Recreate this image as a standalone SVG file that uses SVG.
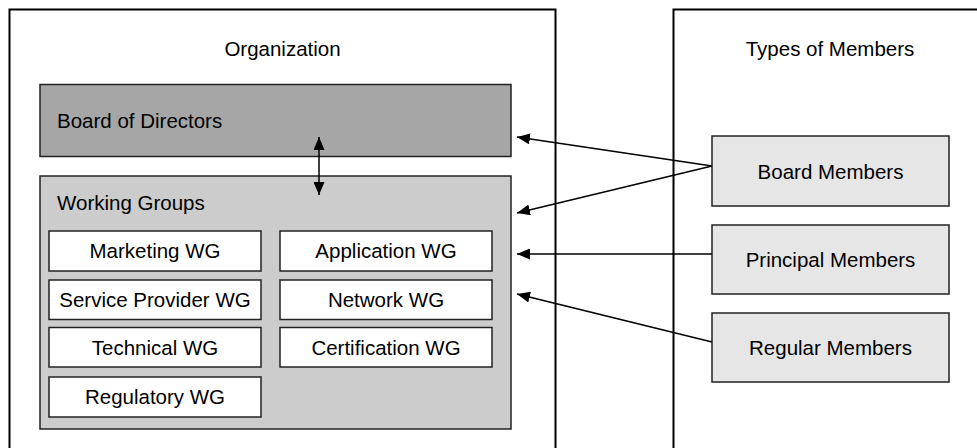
<svg xmlns="http://www.w3.org/2000/svg" width="977" height="448" viewBox="0 0 977 448">
<defs>
<marker id="ah" viewBox="0 0 13 11" markerWidth="13" markerHeight="11" refX="13" refY="5.5" orient="auto-start-reverse" markerUnits="userSpaceOnUse">
<path d="M0,0 L13,5.5 L0,11 z" fill="#000"/>
</marker>
<style>
text{font-family:"Liberation Sans",Arial,Helvetica,sans-serif;font-size:20.5px;fill:#000}
.c{text-anchor:middle}
.frame{fill:#fff;stroke:#000;stroke-width:2}
.box{stroke:#222;stroke-width:1.5}
.wg{fill:#fff}
.mem{fill:#e6e6e6}
.conn{fill:none;stroke:#000;stroke-width:1.5}
</style>
</defs>
<rect width="977" height="448" fill="#fff"/>
<g id="organization">
<rect class="frame" x="9.5" y="9.5" width="546" height="460"/>
<text class="c" x="282.5" y="56">Organization</text>
</g>
<g id="types-of-members">
<rect class="frame" x="673.5" y="9.5" width="330" height="460"/>
<text class="c" x="830" y="56">Types of Members</text>
</g>
<g id="board-of-directors">
<rect class="box" x="40" y="84.5" width="471" height="72" fill="#a6a6a6"/>
<text x="57" y="128">Board of Directors</text>
</g>
<g id="working-groups">
<rect class="box" x="40" y="176" width="471" height="253" fill="#cccccc"/>
<text x="57" y="210">Working Groups</text>
</g>
<g id="marketing-wg"><rect class="box wg" x="49" y="231" width="212" height="40"/><text class="c" x="155" y="258">Marketing WG</text></g>
<g id="application-wg"><rect class="box wg" x="280" y="231" width="212" height="40"/><text class="c" x="386" y="258">Application WG</text></g>
<g id="service-provider-wg"><rect class="box wg" x="49" y="280" width="212" height="39.5"/><text class="c" x="155" y="307">Service Provider WG</text></g>
<g id="network-wg"><rect class="box wg" x="280" y="280" width="212" height="39.5"/><text class="c" x="386" y="307">Network WG</text></g>
<g id="technical-wg"><rect class="box wg" x="49" y="327.5" width="212" height="39.5"/><text class="c" x="155" y="355">Technical WG</text></g>
<g id="certification-wg"><rect class="box wg" x="280" y="327.5" width="212" height="39.5"/><text class="c" x="386" y="355">Certification WG</text></g>
<g id="regulatory-wg"><rect class="box wg" x="49" y="377" width="212" height="40"/><text class="c" x="155" y="404">Regulatory WG</text></g>
<g id="board-members"><rect class="box mem" x="712" y="136" width="237" height="70"/><text class="c" x="830.5" y="179">Board Members</text></g>
<g id="principal-members"><rect class="box mem" x="712" y="225" width="237" height="69"/><text class="c" x="830.5" y="267">Principal Members</text></g>
<g id="regular-members"><rect class="box mem" x="712" y="313" width="237" height="69"/><text class="c" x="830.5" y="355">Regular Members</text></g>
<g id="connectors">
<line class="conn" x1="319" y1="137" x2="319" y2="195" marker-start="url(#ah)" marker-end="url(#ah)"/>
<line class="conn" x1="712" y1="166" x2="517" y2="137" marker-end="url(#ah)"/>
<line class="conn" x1="712" y1="166" x2="517" y2="213" marker-end="url(#ah)"/>
<line class="conn" x1="712" y1="254" x2="517" y2="254" marker-end="url(#ah)"/>
<line class="conn" x1="712" y1="342" x2="517" y2="294" marker-end="url(#ah)"/>
</g>
</svg>
